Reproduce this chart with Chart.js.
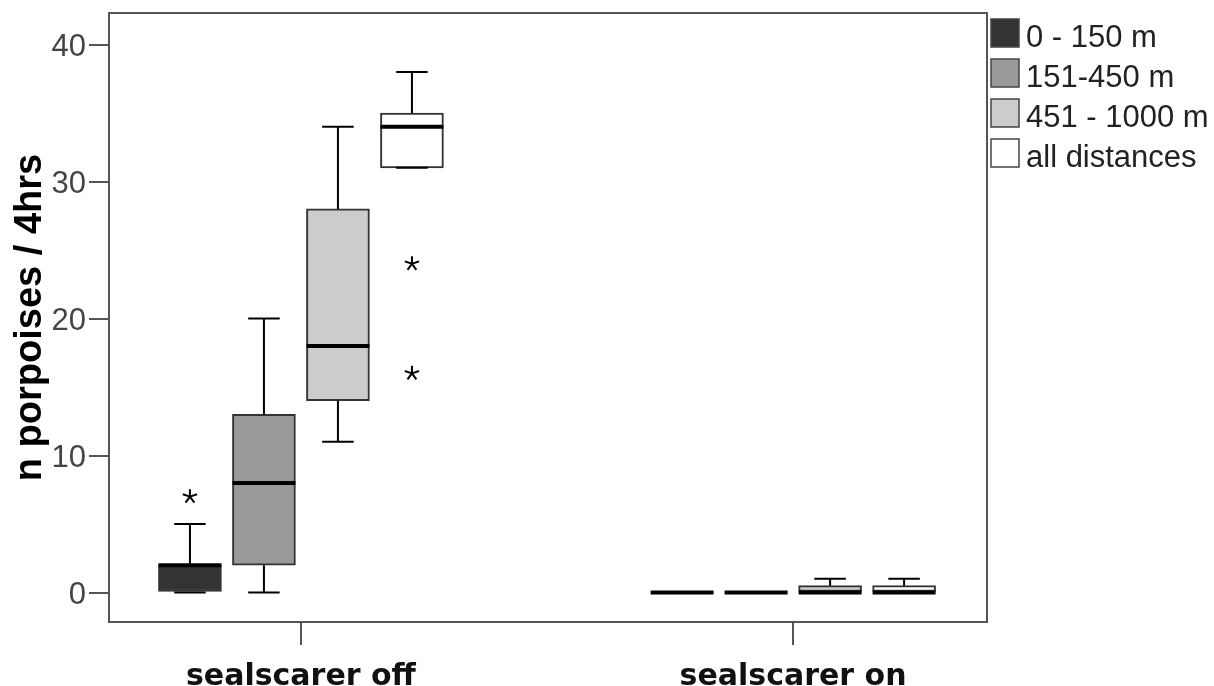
<!DOCTYPE html>
<html>
<head>
<meta charset="utf-8">
<script src="https://cdn.jsdelivr.net/npm/chart.js@4/dist/chart.umd.min.js"></script>
<style>
  body { margin: 0; background: #fff; }
</style>
</head>
<body>
<canvas id="boxChart" width="1214" height="686"></canvas>
<script>
// Values (one entry per series, [off, on])
const categories = ["sealscarer off", "sealscarer on"];
const seriesNames = ["0 - 150 m", "151-450 m", "451 - 1000 m", "all distances"];
const seriesColors = ["#333333", "#999999", "#cccccc", "#ffffff"];

const lowWhisker = [[0, 0], [0, 0], [11, 0], [31, 0]];
const q1Vals = [[0, 0], [2, 0], [14, 0], [31, 0]];
const medianVals = [[2, 0], [8, 0], [18, 0], [34, 0]];
const q3Vals = [[2, 0], [13, 0], [28, 0.5], [35, 0.5]];
const highWhisker = [[5, 0], [20, 0], [34, 1], [38, 1]];
const outlierVals = [[[7], []], [[], []], [[], []], [[16, 24], []]];

const yTicks = [0, 10, 20, 30, 40];

Chart.defaults.font.family = "'Liberation Sans', Arial, sans-serif";
Chart.defaults.color = "#444";

// Build the floating-bar datasets (the boxes go from q1 to q3)
let datasets = [];
for (let s = 0; s < seriesNames.length; s++) {
  datasets.push({
    label: seriesNames[s],
    data: categories.map((c, i) => ({ x: i, y: [q1Vals[s][i], q3Vals[s][i]] })),
    backgroundColor: seriesColors[s],
    borderColor: "#333",
    borderWidth: 2,
    borderSkipped: false,
    barThickness: 74,
    maxBarThickness: 63,
  });
}

// Whiskers, medians and outlier asterisks
const boxExtras = {
  id: "boxExtras",
  afterDatasetsDraw(chart) {
    const ctx = chart.ctx;
    const y = chart.scales.y;
    ctx.save();
    ctx.strokeStyle = "#000";
    for (let s = 0; s < seriesNames.length; s++) {
      const meta = chart.getDatasetMeta(s);
      meta.data.forEach((bar, i) => {
        const cx = bar.x;
        const half = bar.width / 2;
        const cap = bar.width / 4;
        const pLow = y.getPixelForValue(lowWhisker[s][i]);
        const pQ1 = y.getPixelForValue(q1Vals[s][i]);
        const pQ3 = y.getPixelForValue(q3Vals[s][i]);
        const pHigh = y.getPixelForValue(highWhisker[s][i]);
        const pMed = y.getPixelForValue(medianVals[s][i]);

        ctx.lineWidth = 2;
        ctx.beginPath();
        ctx.moveTo(cx, pQ3);
        ctx.lineTo(cx, pHigh);
        ctx.moveTo(cx - cap, pHigh);
        ctx.lineTo(cx + cap, pHigh);
        ctx.moveTo(cx, pQ1);
        ctx.lineTo(cx, pLow);
        ctx.moveTo(cx - cap, pLow);
        ctx.lineTo(cx + cap, pLow);
        ctx.stroke();

        ctx.lineWidth = 4;
        ctx.beginPath();
        ctx.moveTo(cx - half, pMed);
        ctx.lineTo(cx + half, pMed);
        ctx.stroke();

        // asterisks for extreme values
        ctx.lineWidth = 2;
        outlierVals[s][i].forEach((v) => {
          const py = y.getPixelForValue(v);
          ctx.beginPath();
          for (let k = 0; k < 5; k++) {
            const a = -Math.PI / 2 + (k * 2 * Math.PI) / 5;
            ctx.moveTo(cx, py);
            ctx.lineTo(cx + 7.5 * Math.cos(a), py + 7.5 * Math.sin(a));
          }
          ctx.stroke();
        });
      });
    }
    ctx.restore();
  },
  afterDraw(chart) {
    const ctx = chart.ctx;
    const area = chart.chartArea;
    ctx.save();
    // frame round the plot
    ctx.strokeStyle = "#555";
    ctx.lineWidth = 2;
    ctx.strokeRect(area.left, area.top, area.right - area.left, area.bottom - area.top);

    // legend on the right
    ctx.font = "31px 'Liberation Sans', Arial, sans-serif";
    ctx.textBaseline = "alphabetic";
    ctx.textAlign = "left";
    for (let s = 0; s < seriesNames.length; s++) {
      const bx = area.right + 4;
      const by = area.top + 6 + s * 40;
      ctx.fillStyle = seriesColors[s];
      ctx.fillRect(bx, by, 28, 28);
      ctx.strokeStyle = "#444";
      ctx.lineWidth = 1.5;
      ctx.strokeRect(bx, by, 28, 28);
      ctx.fillStyle = "#222";
      ctx.fillText(seriesNames[s], bx + 35, by + 28);
    }
    ctx.restore();
  },
};

new Chart(document.getElementById("boxChart"), {
  type: "bar",
  data: { datasets: datasets },
  plugins: [boxExtras],
  options: {
    responsive: false,
    animation: false,
    devicePixelRatio: 1,
    layout: { padding: { top: 13, right: 227, left: 0, bottom: 0 } },
    plugins: {
      legend: { display: false },
      tooltip: { enabled: false },
    },
    scales: {
      x: {
        type: "linear",
        min: -0.39,
        max: 1.394,
        offset: false,
        afterBuildTicks: (scale) => {
          scale.ticks = categories.map((c, i) => ({ value: i }));
        },
        afterFit: (scale) => {
          scale.height = 64;
          scale.paddingLeft = 0;
          scale.paddingRight = 0;
        },
        ticks: {
          callback: (v) => categories[v],
          color: "#111",
          padding: 14,
          maxRotation: 0,
          font: { family: "'DejaVu Sans', sans-serif", size: 30, weight: "bold" },
        },
        grid: {
          offset: false,
          drawOnChartArea: false,
          tickLength: 23,
          color: "#555",
          lineWidth: 2,
        },
        border: { color: "#555", width: 2 },
      },
      y: {
        min: -2.15,
        max: 42.3,
        afterBuildTicks: (scale) => {
          scale.ticks = yTicks.map((v) => ({ value: v }));
        },
        afterFit: (scale) => {
          scale.width = 109;
          scale.paddingTop = 0;
          scale.paddingBottom = 0;
        },
        ticks: {
          color: "#444",
          padding: 3,
          labelOffset: 3,
          font: { size: 31 },
        },
        grid: {
          drawOnChartArea: false,
          tickLength: 20,
          color: "#555",
          lineWidth: 2,
        },
        border: { color: "#555", width: 2 },
        title: {
          display: true,
          text: "n porpoises / 4hrs",
          color: "#000",
          padding: { top: 8, bottom: 0 },
          font: { size: 38, weight: "bold" },
        },
      },
    },
  },
});
</script>
</body>
</html>
